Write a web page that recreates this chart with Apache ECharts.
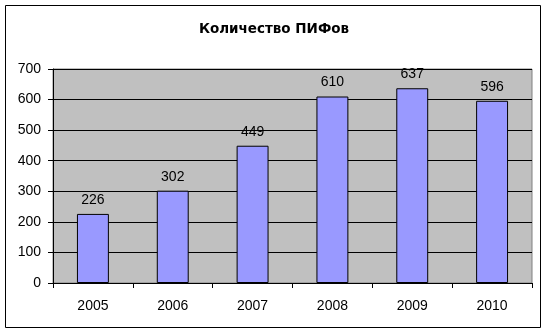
<!DOCTYPE html>
<html><head><meta charset="utf-8">
<script src="https://cdn.jsdelivr.net/npm/echarts@6/dist/echarts.min.js"></script>
<style>html,body{margin:0;padding:0;background:#fff}#c{width:548px;height:334px}</style>
</head><body><div id="c"></div>
<script>
const titleText = 'Количество ПИФов';
const categories = ['2005', '2006', '2007', '2008', '2009', '2010'];
const values = [226, 302, 449, 610, 637, 596];
const yTicks = [0, 100, 200, 300, 400, 500, 600, 700];

const chart = echarts.init(document.getElementById('c'), null, {renderer: 'canvas'});
chart.setOption({
  animation: false,
  backgroundColor: '#fff',
  textStyle: {fontFamily: 'Liberation Sans, Arial, sans-serif'},
  title: {
    text: titleText, left: 'center', top: 17,
    textStyle: {fontSize: 13.5, fontWeight: 'bold', color: '#000', fontFamily: 'DejaVu Sans, sans-serif'}
  },
  graphic: [{
    type: 'rect', shape: {x: 5.5, y: 5.5, width: 535, height: 322},
    style: {fill: 'none', stroke: '#000', lineWidth: 1}, z: -1
  }],
  grid: {left: 53, top: 69, right: 16, bottom: 51, show: true, backgroundColor: '#C0C0C0', borderColor: '#808080', borderWidth: 1},
  xAxis: {
    type: 'category', data: categories,
    axisLine: {show: true, lineStyle: {color: '#000', width: 1}},
    axisTick: {show: true, length: 5, lineStyle: {color: '#000'}, alignWithLabel: false},
    axisLabel: {color: '#000', fontSize: 14, margin: 16}
  },
  yAxis: {
    type: 'value', min: yTicks[0], max: yTicks[yTicks.length - 1], interval: 100,
    axisLine: {show: true, lineStyle: {color: '#000', width: 1}},
    axisTick: {show: true, length: 5, lineStyle: {color: '#000'}},
    axisLabel: {color: '#000', fontSize: 14, margin: 12},
    splitLine: {show: true, lineStyle: {color: '#000', width: 1}}
  },
  series: [{
    type: 'bar', data: values, barWidth: '40%',
    itemStyle: {color: '#9999FF', borderColor: '#000', borderWidth: 1},
    label: {show: true, position: 'top', distance: 7, color: '#000', fontSize: 14}
  }]
});
</script></body></html>
